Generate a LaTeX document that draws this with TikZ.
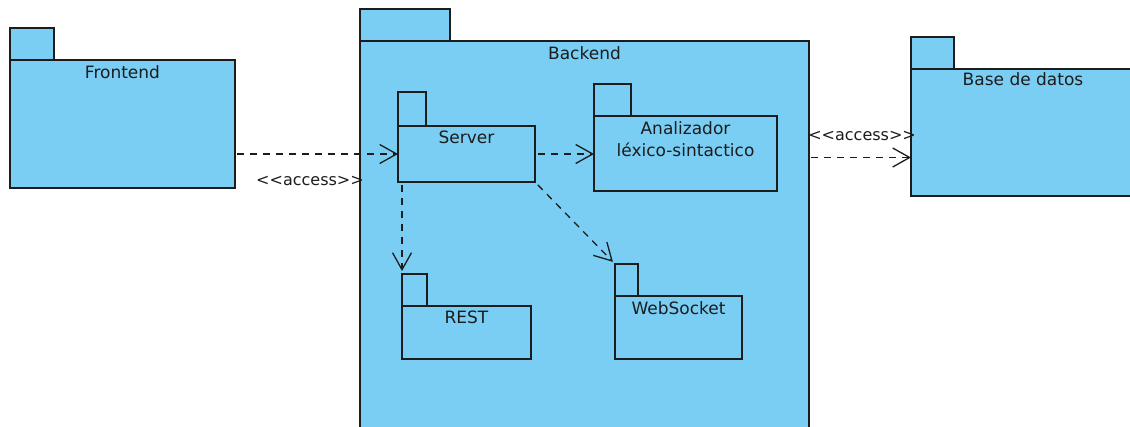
\documentclass[tikz,border=0pt]{standalone}
\usepackage{fontspec}
\setmainfont{DejaVu Sans}
\usetikzlibrary{arrows.meta,calc}
\definecolor{pkgblue}{RGB}{122,206,244}
\definecolor{ink}{RGB}{28,28,28}

\begin{document}
\begin{tikzpicture}[x=1pt,y=-1pt,
  font=\fontsize{17}{22}\selectfont,
  pkg/.style={draw=ink, fill=pkgblue, line width=1.5pt, inner sep=0pt,
              outer sep=0pt, anchor=north west},
  tab/.style={pkg, anchor=south west, minimum height=32pt},
  title/.style={text=ink, inner sep=0pt, anchor=base, align=center},
  lbl/.style={text=ink, inner sep=0pt, font=\fontsize{16}{18}\selectfont},
  dep/.style={draw=ink, line width=1.3pt, dash pattern=on 7pt off 6pt,
              -{Straight Barb[length=17pt,width=19pt]}}]
\useasboundingbox (0,0) rectangle (1130,426);

% Frontend package
\node[pkg, minimum width=225pt, minimum height=128pt] (front) at (10,60) {};
\node[tab, minimum width=44pt] (fronttab) at (front.north west) {};
\node[title] (fronttitle) at ($(front.north)+(0,18)$) {Frontend};

% Backend package with its nested packages
\node[pkg, minimum width=449pt, minimum height=400pt] (back) at (360,41) {};
\node[tab, minimum width=90pt] (backtab) at (back.north west) {};
\node[title] (backtitle) at ($(back.north)+(0,18)$) {Backend};

\node[pkg, minimum width=137pt, minimum height=56pt] (server) at (398,126) {};
\node[tab, minimum width=28pt, minimum height=34pt] (servertab) at (server.north west) {};
\node[title] (servertitle) at ($(server.north)+(0,17)$) {Server};

\node[pkg, minimum width=183pt, minimum height=75pt] (anal) at (594,116) {};
\node[tab, minimum width=37pt] (analtab) at (anal.north west) {};
\node[title, anchor=north] (analtitle) at ($(anal.north)+(0,5)$) {Analizador\\léxico-sintactico};

\node[pkg, minimum width=129pt, minimum height=53pt] (rest) at (402,306) {};
\node[tab, minimum width=25pt] (resttab) at (rest.north west) {};
\node[title] (resttitle) at ($(rest.north)+(0,17)$) {REST};

\node[pkg, minimum width=127pt, minimum height=63pt] (ws) at (615,296) {};
\node[tab, minimum width=23pt] (wstab) at (ws.north west) {};
\node[title] (wstitle) at ($(ws.north)+(0,18)$) {WebSocket};

% Database package
\node[pkg, minimum width=224pt, minimum height=127pt] (db) at (911,69) {};
\node[tab, minimum width=43pt] (dbtab) at (db.north west) {};
\node[title] (dbtitle) at ($(db.north)+(0,16)$) {Base de datos};

% Dependencies
\draw[dep, shorten <=2pt] (front.east |- server.west) -- (server.west)
  node[lbl, pos=0.46, yshift=-27pt] {<\kern0pt<access>\kern0pt>};
\draw[dep, shorten <=3pt] (server.east) -- (server.east -| anal.west);
\draw[dep, shorten <=3pt, shorten >=3pt] (server.south -| resttab.north west) -- (resttab.north west);
\draw[dep, shorten <=4pt, shorten >=3pt] (server.south east) -- (wstab.north west);
\coordinate (dbin) at ($(db.west)+(0,25)$);
\draw[dep, shorten <=2pt] (back.east |- dbin) -- (dbin)
  node[lbl, pos=0.52, yshift=22pt] {<\kern0pt<access>\kern0pt>};
\end{tikzpicture}
\end{document}
